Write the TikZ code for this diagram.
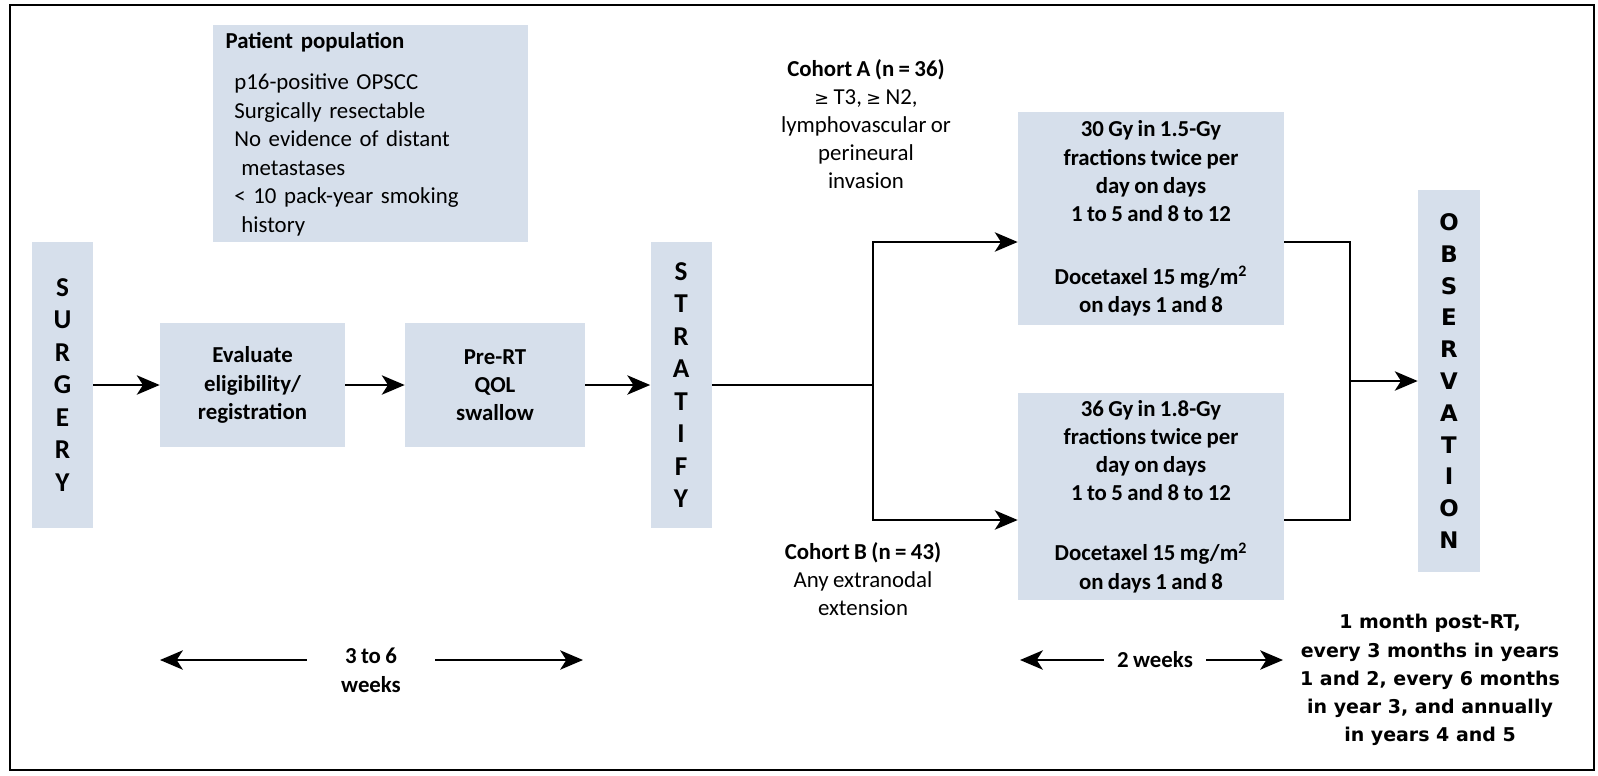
\documentclass[tikz,border=0pt]{standalone}
\usepackage{fontspec}
\setmainfont[WordSpace=0.85]{Carlito}
\newfontfamily\widefont{DejaVu Sans}
\usetikzlibrary{arrows.meta}
\definecolor{boxblue}{RGB}{214,223,235}
\newcommand{\gte}{{\widefont\fontsize{10}{16}\selectfont ≥}}

\begin{document}
\begin{tikzpicture}[x=0.02cm, y=-0.02cm,
    box/.style={fill=boxblue, inner sep=0pt, align=center, font=\fontsize{13}{16}\selectfont\bfseries},
    tall/.style={box, minimum width=1.22cm, minimum height=5.72cm, font=\fontsize{15.5}{18.5}\selectfont\bfseries},
    arm/.style={box, minimum width=5.32cm},
    lbl/.style={align=center, inner sep=0pt, font=\fontsize{13}{16}\selectfont},
    link/.style={line width=1.2pt},
    arr/.style={link, -{Stealth[length=13pt, width=11pt, inset=3.5pt]}}]
    \useasboundingbox (0,0) rectangle (1598,775);
    \draw[line width=0.8pt] (10,5) rectangle (1594,770);

    % criteri di inclusione
    \node[box, anchor=north west, align=left, minimum height=4.34cm, text width=5.46cm,
          inner xsep=0.42cm, font=\fontsize{13}{16.2}\selectfont] (pop) at (213,25)
      {\hspace*{-5pt}\textbf{Patient population}\\[7.5pt]
       p16-positive OPSCC\\
       Surgically resectable\\
       No evidence of distant\\
       \hspace*{4pt}metastases\\
       < 10 pack-year smoking\\
       \hspace*{4pt}history};

    % fasi prima della stratificazione
    \node[tall] (surg) at (62.5,385) {S\\U\\R\\G\\E\\R\\Y};
    \node[box, minimum width=3.7cm, minimum height=2.48cm] (eval) at (252.5,385) {Evaluate\\eligibility/\\registration};
    \node[box, minimum width=3.6cm, minimum height=2.48cm] (prert) at (495,385) {Pre-RT\\QOL\\swallow};
    \node[tall] (strat) at (681,385) {S\\T\\R\\A\\T\\I\\F\\Y};
    \draw[arr] (surg) -- (eval);
    \draw[arr] (eval) -- (prert);
    \draw[arr] (prert) -- (strat);

    % due coorti
    \node[lbl] (cohA) at (866,124) {\textbf{Cohort A (n = 36)}\\\gte{} T3, \gte{} N2,\\lymphovascular or\\perineural\\invasion};
    \node[lbl] (cohB) at (863,579) {\textbf{Cohort B (n = 43)}\\Any extranodal\\extension};
    \node[arm, minimum height=4.26cm] (armA) at (1151,218.5)
      {30 Gy in 1.5-Gy\\fractions twice per\\day on days\\1 to 5 and 8 to 12\\[0.7cm]Docetaxel 15 mg/m\textsuperscript{2}\\on days 1 and 8};
    \node[arm, minimum height=4.14cm] (armB) at (1151,496.5)
      {36 Gy in 1.8-Gy\\fractions twice per\\day on days\\1 to 5 and 8 to 12\\[0.64cm]Docetaxel 15 mg/m\textsuperscript{2}\\on days 1 and 8};
    \coordinate (fork) at (873,385);
    \draw[link] (strat) -- (fork);
    \draw[arr] (fork) |- ([yshift=-0.47cm]armA.west);
    \draw[arr] (fork) |- ([yshift=-0.47cm]armB.west);

    % osservazione
    \node[box, minimum width=1.24cm, minimum height=7.64cm, font=\widefont\fontsize{13}{18.1}\selectfont\bfseries] (obs) at (1449,381)
      {O\\B\\S\\E\\R\\V\\A\\T\\I\\O\\N};
    \coordinate (join) at (1350,381);
    \draw[link] ([yshift=-0.47cm]armA.east) -| (join) |- ([yshift=-0.47cm]armB.east);
    \draw[arr] (join) -- (obs);

    % tempi
    \coordinate (spanAL) at (160,660);
    \coordinate (spanAR) at (583,660);
    \node[lbl, font=\fontsize{13}{16}\selectfont\bfseries, inner xsep=0.68cm, anchor=north] (wkA) at (371,648) {3 to 6\\weeks};
    \draw[arr] (wkA.west |- spanAL) -- (spanAL);
    \draw[arr] (wkA.east |- spanAR) -- (spanAR);
    \coordinate (spanBL) at (1020,660);
    \coordinate (spanBR) at (1283,660);
    \node[lbl, font=\fontsize{13}{16}\selectfont\bfseries, inner xsep=0.26cm] (wkB) at (1155,660) {2 weeks};
    \draw[arr] (wkB) -- (spanBL);
    \draw[arr] (wkB) -- (spanBR);
    \node[lbl, font=\widefont\fontsize{10.8}{16}\selectfont\bfseries] (follow) at (1430,680)
      {1 month post-RT,\\every 3 months in years\\1 and 2, every 6 months\\in year 3, and annually\\in years 4 and 5};
\end{tikzpicture}
\end{document}
